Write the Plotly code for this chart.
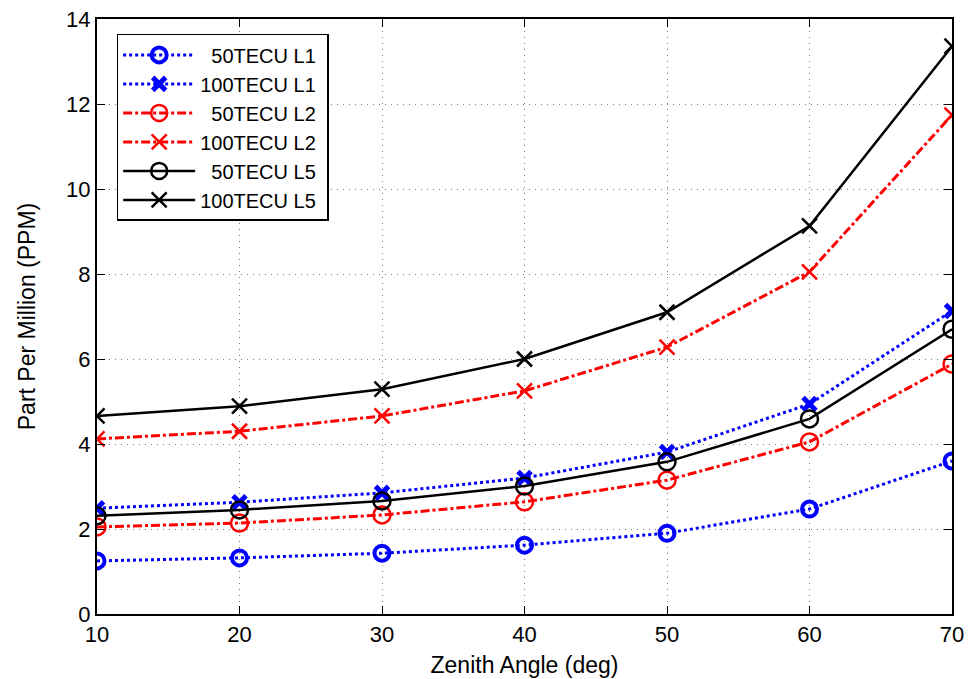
import plotly.graph_objects as go

zenith = [10, 20, 30, 40, 50, 60, 70]
l1_50 = [1.25, 1.32, 1.43, 1.62, 1.90, 2.47, 3.60]
l1_100 = [2.49, 2.63, 2.85, 3.20, 3.81, 4.94, 7.13]
l2_50 = [2.05, 2.14, 2.33, 2.64, 3.15, 4.05, 5.88]
l2_100 = [4.12, 4.30, 4.66, 5.25, 6.28, 8.05, 11.74]
l5_50 = [2.31, 2.45, 2.66, 3.01, 3.58, 4.59, 6.70]
l5_100 = [4.66, 4.89, 5.29, 6.00, 7.10, 9.13, 13.36]

names = ["50TECU L1", "100TECU L1", "50TECU L2", "100TECU L2", "50TECU L5", "100TECU L5"]

series = [
    (names[0], l1_50, "blue", "dot", "circle-open", 15, 4),
    (names[1], l1_100, "blue", "dot", "x-thin-open", 13, 5),
    (names[2], l2_50, "red", "dashdot", "circle-open", 17, 2.5),
    (names[3], l2_100, "red", "dashdot", "x-thin-open", 15, 2.5),
    (names[4], l5_50, "black", "solid", "circle-open", 17, 2.5),
    (names[5], l5_100, "black", "solid", "x-thin-open", 15, 2.5),
]

FONT = "Liberation Sans, Arial, sans-serif"

fig = go.Figure()
for name, vals, col, dash, sym, size, mw in series:
    label = ("\u00a0\u00a0" + name) if name.startswith("50") else name
    fig.add_trace(go.Scatter(
        x=zenith, y=vals, name=label + "\u00a0", mode="lines+markers",
        line=dict(color=col, dash=dash, width=3 if col != "black" else 2.5),
        marker=dict(symbol=sym, size=size, color=col, line=dict(color=col, width=mw)),
    ))

axis_common = dict(
    showline=True, linecolor="black", linewidth=2, mirror="ticks",
    ticks="inside", ticklen=8, tickcolor="black", tickwidth=1,
    showgrid=True, gridcolor="#777777", griddash="1px,5px", gridwidth=1,
    zeroline=False, automargin=False,
    tickfont=dict(family=FONT, size=22, color="black"),
    title_font=dict(family=FONT, size=23, color="black"),
)

fig.update_layout(
    width=971, height=679,
    margin=dict(l=97, r=19, t=19, b=65),
    paper_bgcolor="white", plot_bgcolor="white",
    xaxis=dict(range=[10, 70], tickvals=zenith, title=dict(text="Zenith Angle (deg)", standoff=10), **axis_common),
    yaxis=dict(range=[0, 14], dtick=2, title=dict(text="Part Per Million (PPM)", standoff=24), **axis_common),
    legend=dict(x=0.023, y=0.975, xanchor="left", yanchor="top",
                bordercolor="black", borderwidth=1.5, bgcolor="white",
                font=dict(family=FONT, size=20, color="black"),
                tracegroupgap=0, itemwidth=72),
    showlegend=True,
)

fig.write_html("out.html")
